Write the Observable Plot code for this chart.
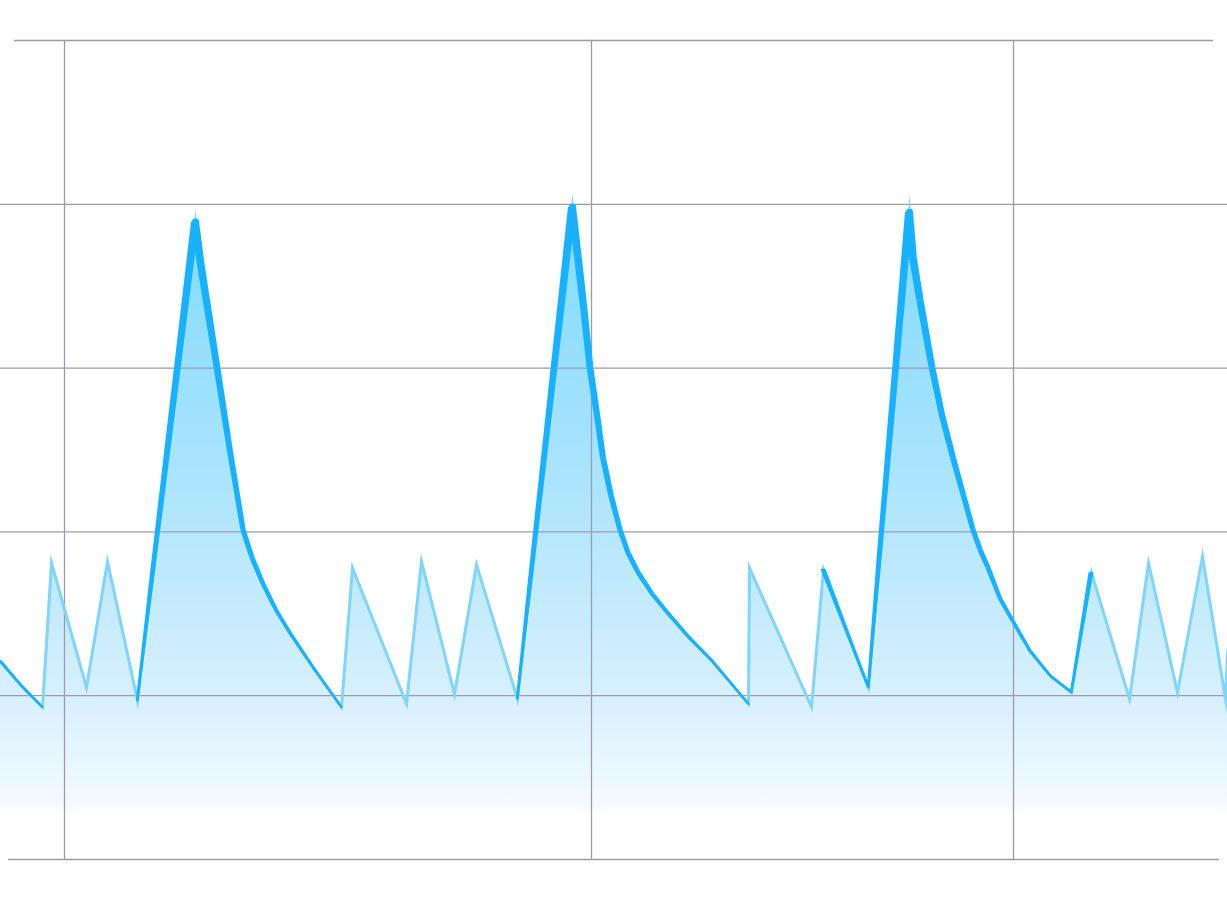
<!DOCTYPE html>
<html>
<head>
<meta charset="utf-8">
<script src="https://cdn.jsdelivr.net/npm/d3@7"></script>
<script src="https://cdn.jsdelivr.net/npm/@observablehq/plot@0.6"></script>
<style>
  html, body { margin: 0; padding: 0; background: #ffffff; overflow: hidden; }
  #chart svg { display: block; }
</style>
</head>
<body>
<div id="chart"></div>
<script>
// ---- data ----
const hours = [0, 21, 42, 51, 86, 107, 137,
  195, 201, 208, 217, 230, 243, 252, 263, 276, 290, 313,
  341, 352, 406, 421, 454, 476, 517,
  572, 578, 584, 590, 597, 603, 611, 620, 628, 638, 652, 668, 688, 712, 730,
  748, 749, 811, 823, 868,
  909, 913, 920, 932, 942, 953, 963, 973, 980, 988, 1000, 1013, 1030, 1050, 1071,
  1091, 1129, 1148, 1177, 1202, 1225, 1227];
const level = [1.21, 1.06, 0.93, 1.81, 1.05, 1.82, 0.97,
  3.89, 3.62, 3.35, 3.00, 2.49, 2.01, 1.84, 1.68, 1.52, 1.38, 1.17,
  0.93, 1.78, 0.95, 1.82, 1.01, 1.80, 0.98,
  3.98, 3.67, 3.35, 3.00, 2.71, 2.45, 2.22, 2.01, 1.87, 1.75, 1.62, 1.50, 1.36, 1.21, 1.08,
  0.95, 1.78, 0.93, 1.77, 1.05,
  3.95, 3.67, 3.41, 3.00, 2.71, 2.45, 2.23, 2.01, 1.89, 1.78, 1.59, 1.45, 1.27, 1.12, 1.02,
  1.75, 0.98, 1.81, 1.02, 1.85, 0.98, 1.27];
// trace of the segment that starts at each point
const P = "primary", S = "secondary";
const trace = [P, P, S, S, S, S, P,
  P, P, P, P, P, P, P, P, P, P, P,
  S, S, S, S, S, S, P,
  P, P, P, P, P, P, P, P, P, P, P, P, P, P, P,
  S, S, S, P, P,
  P, P, P, P, P, P, P, P, P, P, P, P, P, P, P,
  S, S, S, S, S, S, S];
const gridY = [0, 1, 2, 3, 4, 5];
const gridX = [64, 591, 1013];
const baseline = 0.3;

// ---- scales ----
const xDomain = [0, 1227], xRange = [0, 1227];
const yDomain = [0, 5], yRange = [859, 40];
const pxPerX = (xRange[1] - xRange[0]) / (xDomain[1] - xDomain[0]);
const pxPerY = (yRange[0] - yRange[1]) / (yDomain[1] - yDomain[0]);

// ---- derived tables ----
const points = hours.map((h, i) => ({h, v: level[i], trace: trace[i]}));
const peaks = points.filter((p, i) => i > 0 && i < points.length - 1 &&
  p.v > points[i - 1].v && p.v > points[i + 1].v && p.v > 3);
// stroke of the primary trace: drawn as a tapered ribbon whose width follows the level
const widthOf = d3.scaleLinear().domain([1, 1.8, 3.9]).range([2.2, 5.0, 8.0]).clamp(true);
const samples = [0, 0.25, 0.5, 0.75, 1];
const ribbons = [];
points.slice(0, -1).forEach((p, i) => {
  if (p.trace !== P) return;
  const q = points[i + 1];
  const dx = (q.h - p.h) * pxPerX, dy = (q.v - p.v) * pxPerY;
  const len = Math.hypot(dx, dy);
  const steep = Math.abs(dy) >= Math.abs(dx);
  const rows = samples.map(t => {
    const h = p.h + (q.h - p.h) * t, v = p.v + (q.v - p.v) * t;
    const half = widthOf(v) / 2;
    if (steep) {
      const off = half * len / Math.abs(dy) / pxPerX;
      return {h, v, a: h - off, b: h + off};
    } else {
      const off = half * len / Math.abs(dx) / pxPerY;
      return {h, v, a: v - off, b: v + off};
    }
  });
  ribbons.push({steep, rows});
});

const gridColor = "#9a9cab";
const darkBlue = "#18b1ff";
const lightBlue = "#7fd5fc";

const defs = () => {
  const d = d3.create("svg:defs");
  const g = d.append("linearGradient").attr("id", "areaFill")
    .attr("x1", 0).attr("y1", 0).attr("x2", 0).attr("y2", 1);
  [[0, "#80dafe"], [0.45, "#abe4fd"], [0.82, "#d8f0fd"], [1, "#f4fbff"]]
    .forEach(([o, c]) => g.append("stop").attr("offset", o).attr("stop-color", c));
  return d.node();
};

const ribbonMarks = ribbons.map(r => r.steep
  ? Plot.areaX(r.rows, {y: "v", x1: "a", x2: "b", fill: darkBlue})
  : Plot.areaY(r.rows, {x: "h", y1: "a", y2: "b", fill: darkBlue}));

const chart = Plot.plot({
  width: 1227,
  height: 909,
  marginTop: 0, marginRight: 0, marginBottom: 0, marginLeft: 0,
  x: {domain: xDomain, range: xRange, axis: null},
  y: {domain: yDomain, range: yRange, axis: null},
  marks: [
    defs,
    Plot.areaY(points, {x: "h", y1: baseline, y2: "v", fill: "url(#areaFill)"}),
    Plot.ruleY(gridY.filter(v => v > 0 && v < 5), {stroke: gridColor, strokeWidth: 1.3}),
    Plot.ruleY([5], {stroke: gridColor, strokeWidth: 1.3, insetLeft: 14, insetRight: 14}),
    Plot.ruleY([0], {stroke: gridColor, strokeWidth: 1.3, insetLeft: 8, insetRight: 8}),
    Plot.ruleX(gridX, {y1: 0, y2: 5, stroke: gridColor, strokeWidth: 1.3}),
    Plot.line(points, {x: "h", y: "v", stroke: lightBlue, strokeWidth: 3,
      strokeLinejoin: "miter", strokeMiterlimit: 40}),
    Plot.line(points, {x: "h", y: "v", z: null,
      stroke: d => d.trace === P ? darkBlue : "none", strokeWidth: 2.2}),
    ...ribbonMarks,
    Plot.dot(peaks, {x: "h", y: "v", r: 3.8, fill: darkBlue, stroke: "none"})
  ]
});
document.getElementById("chart").append(chart);
</script>
</body>
</html>
